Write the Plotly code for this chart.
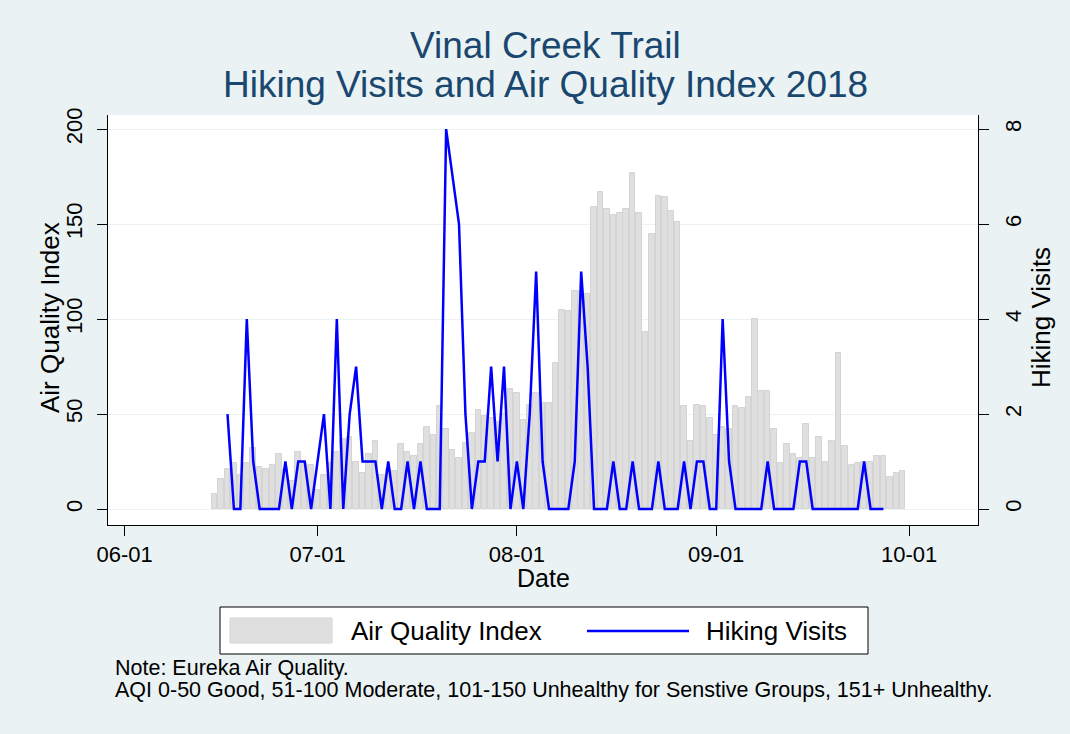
import pandas as pd
import plotly.graph_objects as go

# Daily Air Quality Index (Eureka), starting 2018-06-15
aqi_start = "2018-06-15"
aqi_values = [
    8, 16, 21, 24, 18, 24, 32, 22, 21, 23, 29, 21, 15, 30, 24, 23,      # Jun 15 - Jun 30
    10, 18, 24, 30, 37, 38, 25, 19, 29, 36, 18, 21, 20, 34, 30, 28,     # Jul 1 - Jul 16
    34, 43, 39, 54, 42, 31, 27, 35, 40, 52, 49, 48, 46, 50, 63,         # Jul 17 - Jul 31
    61, 47, 55, 61, 56, 56, 77, 105, 104, 115, 115, 113, 159, 167, 158, # Aug 1 - Aug 15
    155, 156, 158, 177, 156, 93, 145, 165, 164, 157, 151, 54, 36, 55, 54, 48,  # Aug 16 - Aug 31
    39, 43, 42, 54, 53, 59, 100, 62, 62, 42, 24, 34, 29, 27, 45,        # Sep 1 - Sep 15
    27, 38, 25, 36, 82, 33, 23, 24, 25, 25, 28, 28, 17, 19, 20,         # Sep 16 - Sep 30
]

# Daily hiking visits on the trail, starting 2018-06-17
visits_start = "2018-06-17"
visits_values = [
    2, 0, 0, 4, 1, 0, 0, 0, 0, 1, 0, 1, 1, 0,                           # Jun 17 - Jun 30
    1, 2, 0, 4, 0, 2, 3, 1, 1, 1, 0, 1, 0, 0, 1, 0,                     # Jul 1 - Jul 16
    1, 0, 0, 0, 8, 7, 6, 2, 0, 1, 1, 3, 1, 3, 0,                        # Jul 17 - Jul 31
    1, 0, 2, 5, 1, 0, 0, 0, 0, 1, 5, 3, 0, 0, 0,                        # Aug 1 - Aug 15
    1, 0, 0, 1, 0, 0, 0, 1, 0, 0, 0, 1, 0, 1, 1, 0,                     # Aug 16 - Aug 31
    0, 4, 1, 0, 0, 0, 0, 0, 1, 0, 0, 0, 0, 1, 1,                        # Sep 1 - Sep 15
    0, 0, 0, 0, 0, 0, 0, 0, 1, 0, 0, 0,                                 # Sep 16 - Sep 27
]

x_tick_dates = ["2018-06-01", "2018-07-01", "2018-08-01", "2018-09-01", "2018-10-01"]
x_tick_labels = ["06-01", "07-01", "08-01", "09-01", "10-01"]
aqi_ticks = [0, 50, 100, 150, 200]
visit_ticks = [0, 2, 4, 6, 8]

aqi_dates = pd.date_range(aqi_start, periods=len(aqi_values), freq="D")
visit_dates = pd.date_range(visits_start, periods=len(visits_values), freq="D")

# Page geometry (pixels) and helpers to place decorations in paper space
W, H = 1070, 734
M = dict(l=108, r=92, t=115, b=209)


def px(x):
    return (x - M["l"]) / (W - M["l"] - M["r"])


def py(y):
    return (H - M["b"] - y) / (H - M["t"] - M["b"])


BG = "#EAF2F3"
NAVY = "#1A476F"
BAR_FILL = "#DFDFDF"
BAR_EDGE = "#D4D4D4"
BLUE = "#0000FF"
FONT = "Liberation Sans, Arial, sans-serif"
DAY_MS = 86400000

fig = go.Figure()
fig.add_trace(go.Bar(
    x=aqi_dates, y=aqi_values, name="Air Quality Index",
    width=0.86 * DAY_MS,
    marker=dict(color=BAR_FILL, line=dict(color=BAR_EDGE, width=1)),
    yaxis="y", showlegend=False,
))
fig.add_trace(go.Scatter(
    x=visit_dates, y=visits_values, name="Hiking Visits", mode="lines",
    line=dict(color=BLUE, width=2.5),
    yaxis="y2", showlegend=False,
))

aqi_lo, aqi_hi = -8.4, 207.4
fig.update_layout(
    width=W, height=H, autosize=False,
    margin=dict(l=M["l"], r=M["r"], t=M["t"], b=M["b"], pad=0),
    paper_bgcolor=BG, plot_bgcolor="white",
    font=dict(family=FONT, color="black"),
    bargap=0,
    xaxis=dict(
        type="date",
        range=["2018-05-29 10:00", "2018-10-11 17:00"],
        tickmode="array", tickvals=x_tick_dates, ticktext=x_tick_labels,
        ticks="outside", ticklen=10, tickwidth=1, tickcolor="black",
        tickfont=dict(size=22),
        showline=True, linecolor="black", linewidth=1, mirror=False,
        showgrid=False, zeroline=False,
    ),
    yaxis=dict(
        range=[aqi_lo, aqi_hi],
        tickmode="array", tickvals=aqi_ticks,
        tickangle=-90, tickfont=dict(size=22), ticklabelstandoff=6,
        ticks="outside", ticklen=10, tickwidth=1, tickcolor="black",
        showline=True, linecolor="black", linewidth=1,
        showgrid=True, gridcolor=BG, gridwidth=1, zeroline=False,
    ),
    yaxis2=dict(
        overlaying="y", side="right",
        range=[aqi_lo / 25, aqi_hi / 25],
        tickmode="array", tickvals=visit_ticks,
        tickangle=-90, tickfont=dict(size=22), ticklabelstandoff=6,
        ticks="outside", ticklen=10, tickwidth=1, tickcolor="black",
        showline=True, linecolor="black", linewidth=1,
        showgrid=False, zeroline=False,
    ),
)

annotations = [
    # title, two lines
    dict(text="Vinal Creek Trail", x=px(545), y=py(45), font=dict(size=37, color=NAVY)),
    dict(text="Hiking Visits and Air Quality Index 2018", x=px(545), y=py(85),
         font=dict(size=37, color=NAVY)),
    # axis titles
    dict(text="Air Quality Index", x=px(50), y=py(318), textangle=-90, font=dict(size=26)),
    dict(text="Hiking Visits", x=px(1041), y=py(318), textangle=-90, font=dict(size=26)),
    dict(text="Date", x=px(543), y=py(578), font=dict(size=25)),
    # legend labels
    dict(text="Air Quality Index", x=px(349), y=py(631), xanchor="left", font=dict(size=26)),
    dict(text="Hiking Visits", x=px(704), y=py(631), xanchor="left", font=dict(size=26)),
    # note
    dict(text="Note: Eureka Air Quality.", x=px(113), y=py(668), xanchor="left",
         font=dict(size=21.5)),
    dict(text="AQI 0-50 Good, 51-100 Moderate, 101-150 Unhealthy for Senstive Groups, 151+ Unhealthy.",
         x=px(113), y=py(690), xanchor="left", font=dict(size=21.5)),
]
for a in annotations:
    a.setdefault("xanchor", "center")
    a.update(xref="paper", yref="paper", yanchor="middle", showarrow=False)
fig.update_layout(annotations=annotations)

fig.update_layout(shapes=[
    # legend frame
    dict(type="rect", xref="paper", yref="paper",
         x0=px(220), x1=px(868), y0=py(654), y1=py(607),
         line=dict(color="black", width=1), fillcolor="white", layer="below"),
    # bar swatch
    dict(type="rect", xref="paper", yref="paper",
         x0=px(230), x1=px(332), y0=py(643), y1=py(618),
         line=dict(color=BAR_EDGE, width=1), fillcolor=BAR_FILL),
    # line swatch
    dict(type="line", xref="paper", yref="paper",
         x0=px(587), x1=px(689), y0=py(631), y1=py(631),
         line=dict(color=BLUE, width=2.5)),
])

fig.write_html("out.html")
